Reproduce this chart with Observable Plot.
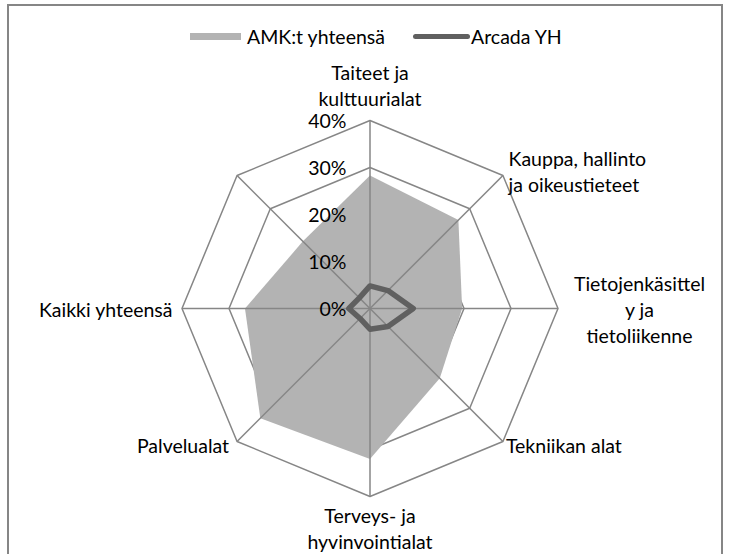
<!DOCTYPE html>
<html><head><meta charset="utf-8">
<script src="https://cdn.jsdelivr.net/npm/d3@7"></script>
<script src="https://cdn.jsdelivr.net/npm/@observablehq/plot@0.6"></script>
<style>
body{margin:0;background:#fff;font-family:Lato,"Liberation Sans",sans-serif}
#wrap{position:relative;width:730px;height:554px;overflow:hidden;background:#fff}
#frame{position:absolute;left:7px;top:4px;width:716px;height:600px;border:2px solid #868686;box-sizing:border-box}
#chart{position:absolute;left:0;top:0}
.lg{position:absolute;font-size:19.5px;color:#000;line-height:1;white-space:nowrap}
</style></head>
<body>
<div id="wrap">
  <div id="frame"></div>
  <div id="chart"></div>
  <div id="legend"></div>
</div>
<script>
// ---- data ----
const categories = ["Taiteet ja\nkulttuurialat", "Kauppa, hallinto\nja oikeustieteet", "Tietojenkäsittel\ny ja\ntietoliikenne", "Tekniikan alat", "Terveys- ja\nhyvinvointialat", "Palvelualat", "Kaikki yhteensä", ""];
const amk = [28.3, 26.6, 19.6, 21.0, 32.0, 33.0, 26.6, 20.2];
const arcada = [4.8, 5.4, 9.2, 5.4, 4.4, 3.0, 4.5, 3.2];
const ticks = [0, 10, 20, 30, 40];
const tickLabels = ["0%", "10%", "20%", "30%", "40%"];
const seriesNames = ["AMK:t yhteensä", "Arcada YH"];

// ---- layout ----
const W = 730, H = 554, cx = 369.5, cy = 308, k = 4.7; // px per percent
const labelLayout = [
  {anchor: "middle", dx: 0, dy: -35.5},
  {anchor: "start", dx: 5.6, dy: -5},
  {anchor: "middle", dx: 81.5, dy: 0},
  {anchor: "start", dx: 3, dy: 3},
  {anchor: "middle", dx: 0, dy: 31},
  {anchor: "end", dx: -8, dy: 3},
  {anchor: "end", dx: -9.5, dy: 0},
  {anchor: "end", dx: -9, dy: 0}
];
const n = categories.length;
const ang = i => i * 2 * Math.PI / n;
const px = (v, i) => v * Math.sin(ang(i));
const py = (v, i) => v * Math.cos(ang(i));
const maxV = ticks[ticks.length - 1];

const ringPts = [];
ticks.filter(t => t > 0).forEach(t => categories.forEach((c, i) => ringPts.push({ring: t, x: px(t, i), y: py(t, i)})));
const amkPts = amk.map((v, i) => ({x: px(v, i), y: py(v, i)}));
const arcPts = arcada.map((v, i) => ({x: px(v, i), y: py(v, i)}));
const idx = d3.range(n);

const marks = [
  Plot.line(ringPts, {x: "x", y: "y", z: "ring", curve: "linear-closed", stroke: "#868686", strokeWidth: 1.5}),
  Plot.line(amkPts, {x: "x", y: "y", curve: "linear-closed", fill: "#b3b3b3", stroke: "none"}),
  Plot.link(idx, {x1: () => 0, y1: () => 0, x2: i => px(maxV, i), y2: i => py(maxV, i), stroke: "#868686", strokeWidth: 1.5}),
  Plot.line(arcPts, {x: "x", y: "y", curve: "linear-closed", stroke: "#606060", strokeWidth: 5.5, strokeLinejoin: "round"}),
  Plot.text(ticks, {x: () => 0, y: d => d, text: (d, i) => tickLabels[i], textAnchor: "end", dx: -23.5, dy: 1.5, fill: "#000"})
];
categories.forEach((c, i) => {
  const L = labelLayout[i];
  marks.push(Plot.text([i], {x: j => px(maxV, j), y: j => py(maxV, j), text: j => categories[j], textAnchor: L.anchor, lineAnchor: "middle", lineHeight: 1.33, dx: L.dx, dy: L.dy, fill: "#000"}));
});

const chart = Plot.plot({
  width: W, height: H, margin: 0,
  x: {domain: [-cx / k, (W - cx) / k], axis: null},
  y: {domain: [-(H - cy) / k, cy / k], axis: null},
  style: {fontFamily: "Lato, 'Liberation Sans', sans-serif", fontSize: "19.5px", background: "transparent", overflow: "visible"},
  marks
});
document.getElementById("chart").appendChild(chart);

// legend
const lg = document.getElementById("legend");
lg.innerHTML = `
<div style="position:absolute;left:190px;top:33px;width:51px;height:7px;background:#b3b3b3"></div>
<div class="lg" style="left:247px;top:27px">${seriesNames[0]}</div>
<div style="position:absolute;left:413px;top:33.5px;width:57px;height:5.5px;border-radius:3px;background:#606060"></div>
<div class="lg" style="left:471px;top:27px">${seriesNames[1]}</div>`;
</script>
</body></html>
